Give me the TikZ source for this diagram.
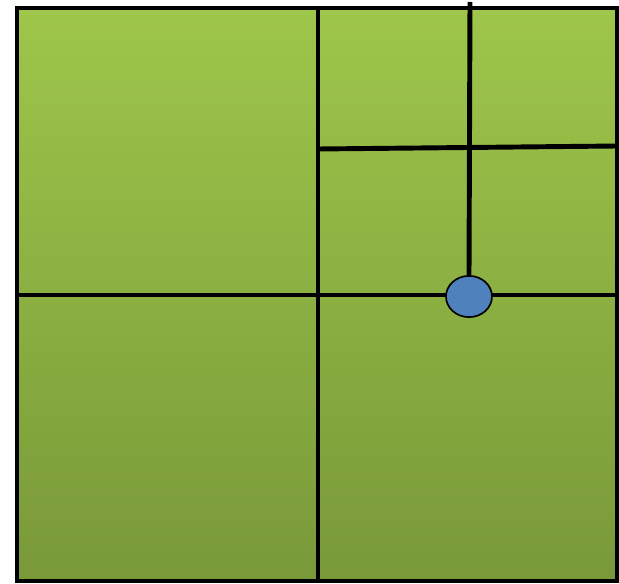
\documentclass[tikz,border=0pt]{standalone}
\usetikzlibrary{shapes.geometric}
\definecolor{fieldTop}{RGB}{158,198,74}
\definecolor{fieldBot}{RGB}{121,153,57}
\definecolor{hubBlue}{RGB}{79,129,189}
\tikzset{
  gridline/.style={line width=3.5pt, black},
  hubdot/.style={ellipse, draw=black, line width=1.2pt, fill=hubBlue,
    minimum width=1.15cm, minimum height=1.03cm, inner sep=0pt}
}
\begin{document}
\begin{tikzpicture}[x=0.025cm, y=-0.025cm]
\useasboundingbox (0,0) rectangle (619,584);
%%%%%%%%%%
% Field (background)
%%%%%%%%%%
\shade[top color=fieldTop, bottom color=fieldBot] (17,8) rectangle (617,581);

%%%%%%%%%%
% Cells
%%%%%%%%%%
\coordinate (midT) at (318,8);
\coordinate (midB) at (318,581);
\coordinate (midL) at (17,295);
\coordinate (midR) at (617,295);
\coordinate (subL) at (318,149);
\coordinate (subR) at (617,146);
\draw[gridline] (midT) -- (midB);
\draw[gridline] (midL) -- (midR);
\draw[gridline] (subL) -- (subR);
% outer square
\draw[gridline] (17,8) rectangle (617,581);

%%%%%%%%%%
% Feed line and hub (foreground)
%%%%%%%%%%
\coordinate (feed) at (470,2);
\node[hubdot] (hub) at (469,296.5) {};
\draw[gridline] (feed) -- (hub.north);
\end{tikzpicture}
\end{document}
